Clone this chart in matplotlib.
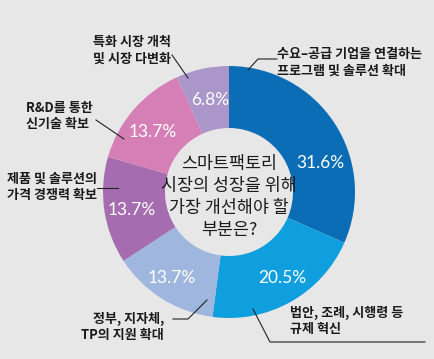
"""
Donut chart: what needs improving for smart factory market growth
"""

import matplotlib
matplotlib.use('Agg')
import matplotlib.pyplot as plt

plt.rcParams['font.family'] = ['Noto Sans CJK KR', 'DejaVu Sans']

# Data
labels = [
    '수요–공급 기업을 연결하는\n프로그램 및 솔루션 확대',
    '법안, 조례, 시행령 등\n규제 혁신',
    '정부, 지자체,\nTP의 지원 확대',
    '제품 및 솔루션의\n가격 경쟁력 확보',
    'R&D를 통한\n신기술 확보',
    '특화 시장 개척\n및 시장 다변화',
]
values = [31.6, 20.5, 13.7, 13.7, 13.7, 6.8]
colors = ['#0b6db5', '#0f9fdf', '#9fb6de', '#a56cb0', '#d67fb6', '#aa96c9']
center_title = '스마트팩토리\n시장의 성장을 위해\n가장 개선해야 할\n부분은?'

W, H = 435, 359
bg = '#e7e7e8'


def py(y):
    # pixel row (top-down) -> data y
    return H - y


fig = plt.figure(figsize=(W / 100, H / 100), dpi=100, facecolor=bg)
ax = fig.add_axes([0, 0, 1, 1])

cx, cy = 229, py(192)
r_out, r_in = 126, 64

wedges, _ = ax.pie(
    values,
    colors=colors,
    startangle=90,
    counterclock=False,
    center=(cx, cy),
    radius=r_out,
    wedgeprops=dict(width=r_out - r_in, linewidth=0),
    frame=True,
)
ax.set_xlim(0, W)
ax.set_ylim(0, H)
ax.set_aspect('equal')
ax.axis('off')

# percentage labels
pct_pos = [(320, 163), (282, 278), (172, 278), (132, 210), (153, 132), (210, 100)]
for v, (x, y) in zip(values, pct_pos):
    ax.text(x, py(y), f'{v}%', color='white', fontsize=12.5, ha='center', va='center',
            family=['Lato', 'DejaVu Sans'])

# center question
ax.text(cx, py(197), center_title, ha='center', va='center', fontsize=12.5,
        linespacing=1.27, color='#1a1a1a')

# category labels
lab_style = dict(fontsize=9.4, color='#1a1a1a', linespacing=1.25, va='center',
                 fontweight='bold')
ax.text(277, py(62), labels[0], ha='left', **lab_style)
ax.text(290, py(321), labels[1], ha='left', **lab_style)
ax.text(164, py(327), labels[2], ha='right', multialignment='right', **lab_style)
ax.text(97, py(187), labels[3], ha='right', multialignment='left', **lab_style)
ax.text(93, py(116), labels[4], ha='right', multialignment='left', **lab_style)
ax.text(171, py(50), labels[5], ha='right', multialignment='left', **lab_style)

# leader lines
lc = dict(color='#222222', linewidth=0.8)
leaders = [
    [(248, 70), (258, 59), (277, 59)],
    [(253, 309), (270, 342), (425, 342)],
    [(207, 300), (188, 319), (173, 319)],
    [(97, 188), (118, 188)],
    [(96, 120), (124, 139)],
    [(172, 55), (188, 78)],
]
for pts in leaders:
    xs = [p[0] for p in pts]
    ys = [py(p[1]) for p in pts]
    ax.plot(xs, ys, **lc)

plt.savefig('out.png', dpi=100, facecolor=bg)
